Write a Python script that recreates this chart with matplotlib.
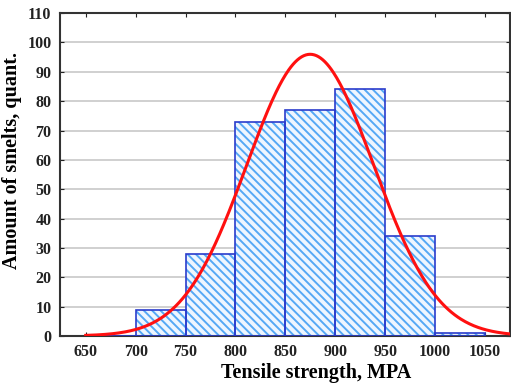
import numpy as np
import matplotlib
matplotlib.use("Agg")
import matplotlib.pyplot as plt

bin_edges = [650, 700, 750, 800, 850, 900, 950, 1000, 1050]
counts = [0, 9, 28, 73, 77, 84, 34, 1]
xticks = [650, 700, 750, 800, 850, 900, 950, 1000, 1050]
yticks = [0, 10, 20, 30, 40, 50, 60, 70, 80, 90, 100, 110]

plt.rcParams['font.family'] = ['Liberation Serif', 'DejaVu Serif']
plt.rcParams['hatch.linewidth'] = 1.4

fig = plt.figure(figsize=(5.11, 3.87), dpi=100)
ax = fig.add_axes([0.117, 0.132, 0.881, 0.834])

edges = np.array(bin_edges, dtype=float)
cnt = np.array(counts, dtype=float)
lefts = edges[:-1]
widths = np.diff(edges)

ax.set_axisbelow(True)
ax.grid(axis='y', color='#c8c8c8', linewidth=1.2)
ax.bar(lefts, cnt, width=widths, align='edge', facecolor='#eef6ff',
       edgecolor='#55a8f5', hatch='\\\\\\\\', linewidth=0, zorder=2)
ax.bar(lefts, cnt, width=widths, align='edge', facecolor='none',
       edgecolor='#2a3ccc', linewidth=1.2, zorder=3)

# fitted normal curve from the histogram
mids = (edges[:-1] + edges[1:]) / 2
n = cnt.sum()
mu = (mids * cnt).sum() / n
sd = np.sqrt(((mids - mu) ** 2 * cnt).sum() / n)
xs = np.linspace(650, 1075, 400)
ys = n * widths[0] * np.exp(-(xs - mu) ** 2 / (2 * sd ** 2)) / (sd * np.sqrt(2 * np.pi))
ax.plot(xs, ys, color='#ff1010', linewidth=2.2, zorder=4)

ax.set_xlim(624, 1075)
ax.set_ylim(0, 110)
ax.set_xticks(xticks)
ax.set_yticks(yticks)
ax.tick_params(axis='both', direction='in', length=3, top=True, right=True,
               labelsize=11.5, colors='#222222', pad=6)
for lbl in ax.get_xticklabels() + ax.get_yticklabels():
    lbl.set_fontweight('bold')
for s in ax.spines.values():
    s.set_color('#333333')
    s.set_linewidth(1.5)

ax.set_xlabel('Tensile strength, MPA', fontsize=14.5, fontweight='bold')
ax.xaxis.set_label_coords(0.569, -0.085)
ax.set_ylabel('Amount of smelts, quant.', fontsize=14.5, fontweight='bold')
ax.yaxis.set_label_coords(-0.083, 0.545)

fig.savefig('out.png', dpi=100)
